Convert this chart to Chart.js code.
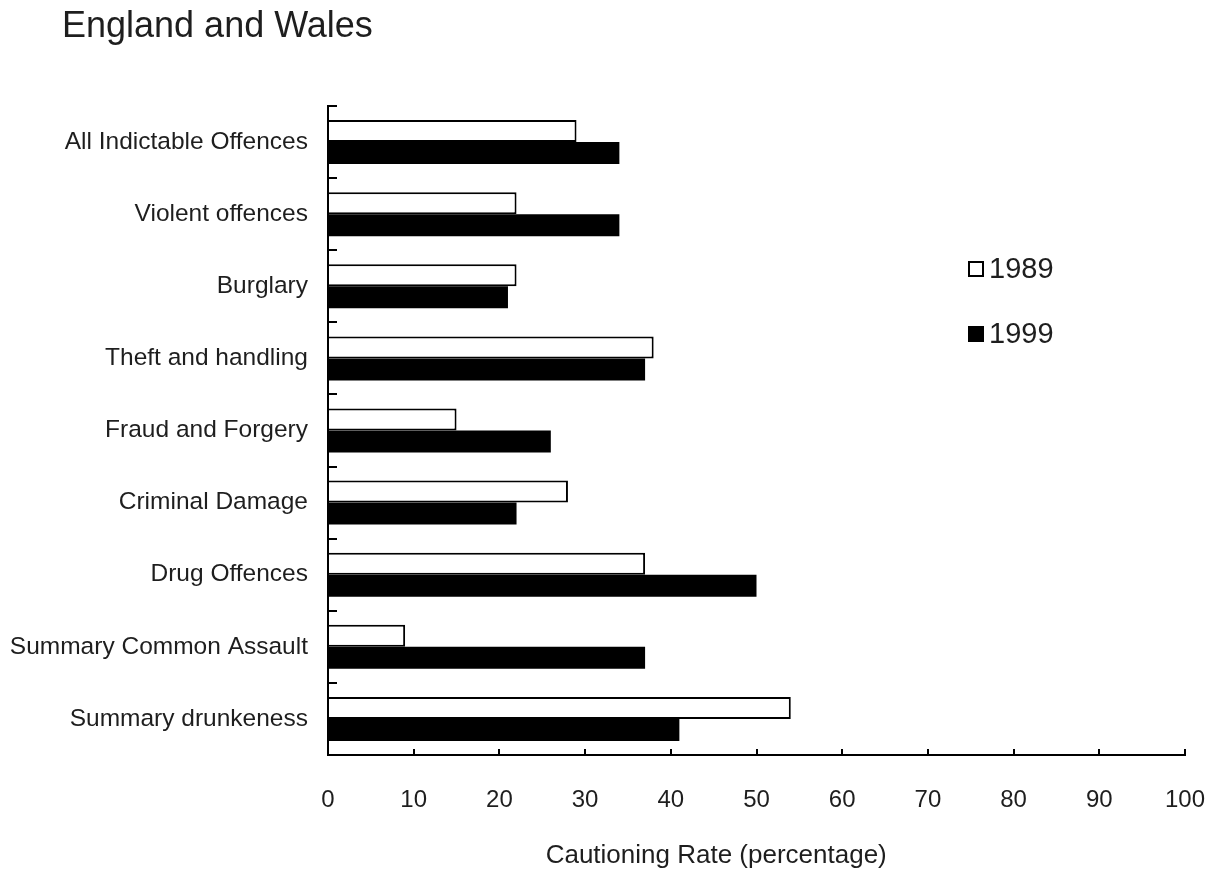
<!DOCTYPE html>
<html>
<head>
<meta charset="utf-8">
<script src="https://cdn.jsdelivr.net/npm/chart.js@4.4.1/dist/chart.umd.min.js"></script>
<style>
  html, body { margin: 0; padding: 0; background: #fff; }
  #wrap { width: 1213px; height: 872px; }
</style>
</head>
<body>
<div id="wrap"><canvas id="chart" width="1213" height="872"></canvas></div>
<script>
const categories = [
  'All Indictable Offences',
  'Violent offences',
  'Burglary',
  'Theft and handling',
  'Fraud and Forgery',
  'Criminal Damage',
  'Drug Offences',
  'Summary Common Assault',
  'Summary drunkeness'
];
const rates1989 = [29, 22, 22, 38, 15, 28, 37, 9, 54];
const rates1999 = [34, 34, 21, 37, 26, 22, 50, 37, 41];
const xTicks = [0, 10, 20, 30, 40, 50, 60, 70, 80, 90, 100];

const FONT = "'Liberation Sans', Arial, Helvetica, sans-serif";
const TEXT = '#1e1e1e';

// title, axis title and legend are placed by hand like in the original
const extras = {
  id: 'extras',
  afterDraw(chart) {
    const ctx = chart.ctx;
    ctx.save();

    ctx.fillStyle = TEXT;
    ctx.textBaseline = 'middle';
    ctx.textAlign = 'left';
    ctx.font = '36px ' + FONT;
    ctx.fillText('England and Wales', 62, 27);

    ctx.font = '26px ' + FONT;
    ctx.textAlign = 'center';
    ctx.fillText('Cautioning Rate (percentage)', chart.scales.x.getPixelForValue(45.3), 856);

    ctx.font = '29px ' + FONT;
    ctx.textAlign = 'left';
    const rows = [[chart.data.datasets[0], 269], [chart.data.datasets[1], 334]];
    rows.forEach(([ds, y]) => {
      ctx.fillStyle = ds.backgroundColor;
      ctx.fillRect(968, y - 8, 16, 16);
      ctx.strokeStyle = '#000';
      ctx.lineWidth = 2;
      ctx.strokeRect(969, y - 7, 14, 14);
      ctx.fillStyle = TEXT;
      ctx.fillText(ds.label, 989, y + 1);
    });
    ctx.restore();
  }
};

new Chart(document.getElementById('chart'), {
  type: 'bar',
  data: {
    labels: categories,
    datasets: [
      {
        label: '1989',
        data: rates1989,
        backgroundColor: '#ffffff',
        borderColor: '#000000',
        borderWidth: 2,
        borderSkipped: 'start'
      },
      {
        label: '1999',
        data: rates1999,
        backgroundColor: '#000000',
        borderColor: '#000000',
        borderWidth: 0
      }
    ]
  },
  options: {
    indexAxis: 'y',
    responsive: false,
    animation: false,
    barPercentage: 1,
    categoryPercentage: 0.61,
    layout: { padding: { left: 0, right: 28, top: 106, bottom: 0 } },
    plugins: {
      legend: { display: false },
      tooltip: { enabled: false },
      title: { display: false }
    },
    scales: {
      x: {
        min: 0,
        max: 100,
        afterBuildTicks: s => { s.ticks = xTicks.map(v => ({ value: v })); },
        afterFit: s => { s.height = 117; s.paddingRight = 0; s.paddingLeft = 0; },
        border: { color: '#000', width: 2 },
        grid: { drawOnChartArea: false, color: '#000', lineWidth: 2, tickLength: -6 },
        ticks: {
          color: TEXT,
          padding: 37,
          maxRotation: 0,
          font: { family: FONT, size: 24 }
        }
      },
      y: {
        afterFit: s => { s.width = 328; s.paddingTop = 0; s.paddingBottom = 0; },
        border: { color: '#000', width: 2 },
        grid: { drawOnChartArea: false, offset: true, color: '#000', lineWidth: 2, tickLength: -9 },
        ticks: {
          color: TEXT,
          padding: 29,
          font: { family: FONT, size: 24.5 }
        }
      }
    }
  },
  plugins: [extras]
});
</script>
</body>
</html>
